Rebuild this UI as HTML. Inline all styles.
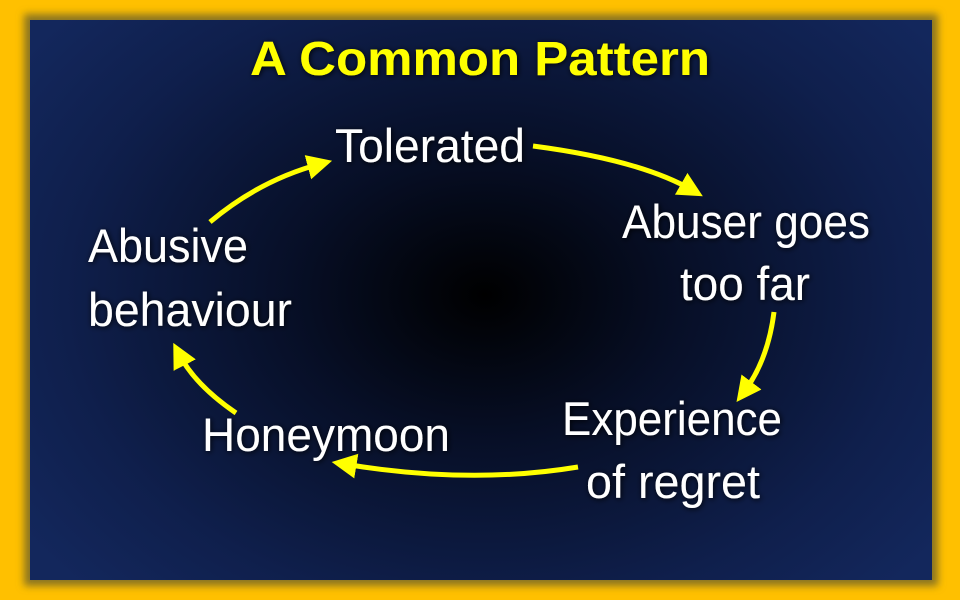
<!DOCTYPE html>
<html><head><meta charset="utf-8"><style>
html,body{margin:0;padding:0;width:960px;height:600px;overflow:hidden;background:#FFC000}
</style></head><body>
<svg width="960" height="600" xmlns="http://www.w3.org/2000/svg">
<defs>
<radialGradient id="bg" cx="485" cy="295" r="560" gradientUnits="userSpaceOnUse" gradientTransform="translate(485 295) scale(1 0.75) translate(-485 -295)">
<stop offset="0" stop-color="#000000"/>
<stop offset="0.35" stop-color="#070f27"/>
<stop offset="0.75" stop-color="#0f1f4c"/>
<stop offset="1" stop-color="#13275c"/>
</radialGradient>
<filter id="sh" x="-10%" y="-10%" width="120%" height="120%"><feGaussianBlur stdDeviation="4"/></filter>
<filter id="ts"><feDropShadow dx="1" dy="1" stdDeviation="3" flood-color="#000" flood-opacity="0.9"/></filter>
<marker id="ah" markerWidth="5" markerHeight="5" refX="2.5" refY="2.5" orient="auto" markerUnits="strokeWidth"><path d="M0,0 L5,2.5 L0,5 z" fill="#FFFF00"/></marker>
</defs>
<rect x="0" y="0" width="960" height="600" fill="#FFC000"/>
<rect x="24" y="14" width="914" height="572" fill="#8a7420" filter="url(#sh)"/>
<rect x="30" y="20" width="902" height="560" fill="url(#bg)"/>
<text x="480" y="75" text-anchor="middle" font-family="Liberation Sans, sans-serif" font-weight="bold" font-size="48" fill="#FFFF00" filter="url(#ts)" textLength="460" lengthAdjust="spacingAndGlyphs">A Common Pattern</text>
<g fill="none" stroke="#FFFF00" stroke-width="5" marker-end="url(#ah)">
<path d="M533,146 Q640,160 692,190"/>
<path d="M774,312 Q768,360 744,392"/>
<path d="M578,467 Q470,485 344,464"/>
<path d="M236,413 Q195,385 179,354"/>
<path d="M210,222 Q260,180 320,164"/>
</g>
<g font-family="Liberation Sans, sans-serif" font-size="47" fill="#fff" filter="url(#ts)">
<text x="335" y="162" textLength="190" lengthAdjust="spacingAndGlyphs">Tolerated</text>
<text x="622" y="238" textLength="248" lengthAdjust="spacingAndGlyphs">Abuser goes</text>
<text x="680" y="300" textLength="130" lengthAdjust="spacingAndGlyphs">too far</text>
<text x="562" y="435" textLength="220" lengthAdjust="spacingAndGlyphs">Experience</text>
<text x="586" y="498" textLength="174" lengthAdjust="spacingAndGlyphs">of regret</text>
<text x="202" y="451" textLength="248" lengthAdjust="spacingAndGlyphs">Honeymoon</text>
<text x="88" y="262" textLength="160" lengthAdjust="spacingAndGlyphs">Abusive</text>
<text x="88" y="326" textLength="204" lengthAdjust="spacingAndGlyphs">behaviour</text>
</g>
</svg>
</body></html>
